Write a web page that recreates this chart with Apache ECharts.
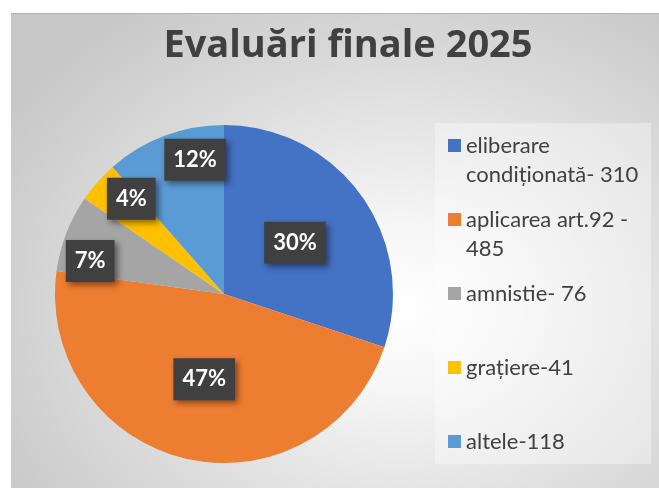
<!DOCTYPE html>
<html><head><meta charset="utf-8">
<script src="https://cdn.jsdelivr.net/npm/echarts@6/dist/echarts.min.js"></script>
<style>
html,body{margin:0;padding:0;background:#fff;}
#bg{position:absolute;left:11px;top:13px;width:648px;height:475px;background:radial-gradient(ellipse 72% 78% at 60% 62%, #ffffff 0%, #f6f6f6 22%, #dddddd 62%, #c7c7c7 100%);border-top:1px solid #b3b3b3;box-sizing:border-box}
#chart{position:absolute;left:0;top:0;width:659px;height:488px;}
</style></head><body>
<div id="bg"></div><div id="chart"></div>
<script>
const title = 'Evaluări finale 2025';
const categories = ['eliberare\ncondiționată- 310', 'aplicarea art.92 -\n485', 'amnistie- 76', 'grațiere-41', 'altele-118'];
const values = [310, 485, 76, 41, 118];
const palette = ['#4472C4', '#ED7D31', '#A5A5A5', '#FFC000', '#5B9BD5'];
// small label nudges (Excel "best fit" spreads the small-slice labels apart)
const labelNudge = [[0, 0], [0, 0], [-7, 16], [9, -5], [19, -7]];

const total = values.reduce((a, b) => a + b, 0);
const labelStyle = {
  position: 'inside', formatter: '{d}%', color: '#ffffff', fontFamily: 'Lato', fontWeight: 'bold',
  fontSize: 22, lineHeight: 22, backgroundColor: '#404040', padding: [10, 9],
  shadowColor: 'rgba(0,0,0,0.45)', shadowBlur: 6, shadowOffsetX: 3, shadowOffsetY: 3
};
const bigData = categories.map((n, i) => ({ name: n, value: values[i], label: { show: values[i] / total >= 0.2, offset: labelNudge[i] } }));
const smallData = categories.map((n, i) => ({ name: n, value: values[i], label: { show: values[i] / total < 0.2, offset: labelNudge[i] } }));

const chart = echarts.init(document.getElementById('chart'), null, { renderer: 'canvas' });
chart.setOption({
  animation: false,
  color: palette,
  title: {
    text: title, left: 343, top: 22, textAlign: 'center',
    textStyle: { fontFamily: 'Open Sans', fontWeight: 'bold', fontSize: 38, color: '#404040' }
  },
  graphic: [{ type: 'rect', z: 0, shape: { x: 435, y: 123, width: 216, height: 341 }, style: { fill: 'rgba(255,255,255,0.35)' } }],
  legend: {
    orient: 'vertical', left: 448, top: 102, padding: 0, itemGap: -13, selectedMode: false,
    icon: 'rect', itemWidth: 13, itemHeight: 13,
    textStyle: { color: '#404040', fontFamily: 'Lato', fontSize: 22, lineHeight: 29 },
    formatter: function (name) {
      return name.indexOf('\n') >= 0 ? '\n' + name : '\n' + name + '\n';
    },
    data: categories
  },
  series: [
    {
      type: 'pie', radius: [0, 169], center: [224, 294], startAngle: 90, clockwise: true,
      percentPrecision: 0, avoidLabelOverlap: false, label: labelStyle, labelLine: { show: false },
      labelLayout: { hideOverlap: false },
      emphasis: { disabled: true }, data: bigData
    },
    {
      type: 'pie', radius: [0, 266], center: [224, 294], startAngle: 90, clockwise: true, silent: true,
      percentPrecision: 0, avoidLabelOverlap: false, label: labelStyle, labelLine: { show: false },
      labelLayout: { hideOverlap: false },
      itemStyle: { color: 'rgba(0,0,0,0)' }, emphasis: { disabled: true }, data: smallData, z: 3
    }
  ]
});
</script>
</body></html>
